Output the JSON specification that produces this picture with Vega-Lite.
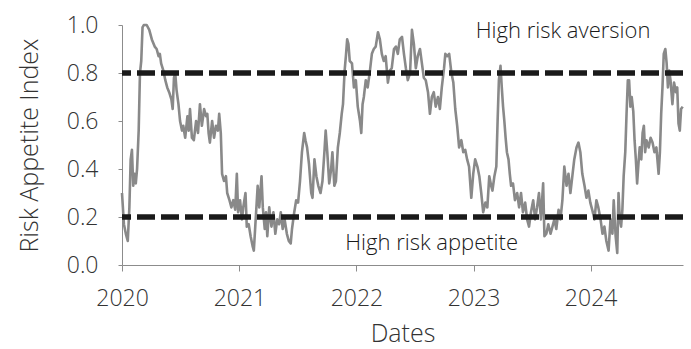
{
  "$schema": "https://vega.github.io/schema/vega-lite/v6.json",
  "width": 561,
  "height": 240,
  "autosize": {"type": "none"},
  "padding": {"left": 122, "top": 25, "right": 8, "bottom": 84},
  "background": "white",
  "config": {
    "view": {"stroke": null},
    "font": "Open Sans",
    "axis": {
      "grid": false,
      "domainColor": "#8c8c8c",
      "tickColor": "#8c8c8c",
      "labelColor": "#333333",
      "titleColor": "#333333",
      "labelFont": "Open Sans",
      "titleFont": "Open Sans",
      "labelFontSize": 23,
      "titleFontSize": 25,
      "labelFontWeight": 300,
      "titleFontWeight": 300
    }
  },
  "datasets": {
    "series": [
      {"date": "2020-01-01", "value": 0.30},
      {"date": "2020-01-07", "value": 0.17},
      {"date": "2020-01-13", "value": 0.13},
      {"date": "2020-01-19", "value": 0.10},
      {"date": "2020-01-24", "value": 0.24},
      {"date": "2020-01-28", "value": 0.44},
      {"date": "2020-02-01", "value": 0.48},
      {"date": "2020-02-05", "value": 0.33},
      {"date": "2020-02-09", "value": 0.38},
      {"date": "2020-02-13", "value": 0.34},
      {"date": "2020-02-17", "value": 0.40},
      {"date": "2020-02-22", "value": 0.56},
      {"date": "2020-02-26", "value": 0.80},
      {"date": "2020-03-01", "value": 0.85},
      {"date": "2020-03-05", "value": 0.99},
      {"date": "2020-03-09", "value": 1.00},
      {"date": "2020-03-18", "value": 1.00},
      {"date": "2020-03-26", "value": 0.98},
      {"date": "2020-04-03", "value": 0.94},
      {"date": "2020-04-12", "value": 0.91},
      {"date": "2020-04-18", "value": 0.90},
      {"date": "2020-04-24", "value": 0.87},
      {"date": "2020-04-28", "value": 0.88},
      {"date": "2020-05-02", "value": 0.84},
      {"date": "2020-05-09", "value": 0.81},
      {"date": "2020-05-15", "value": 0.77},
      {"date": "2020-05-21", "value": 0.74},
      {"date": "2020-05-27", "value": 0.72},
      {"date": "2020-06-03", "value": 0.69},
      {"date": "2020-06-07", "value": 0.65},
      {"date": "2020-06-11", "value": 0.78},
      {"date": "2020-06-15", "value": 0.80},
      {"date": "2020-06-19", "value": 0.73},
      {"date": "2020-06-25", "value": 0.67},
      {"date": "2020-06-30", "value": 0.60},
      {"date": "2020-07-06", "value": 0.56},
      {"date": "2020-07-10", "value": 0.58},
      {"date": "2020-07-16", "value": 0.53},
      {"date": "2020-07-23", "value": 0.62},
      {"date": "2020-07-27", "value": 0.56},
      {"date": "2020-07-31", "value": 0.65},
      {"date": "2020-08-06", "value": 0.53},
      {"date": "2020-08-12", "value": 0.52},
      {"date": "2020-08-19", "value": 0.60},
      {"date": "2020-08-25", "value": 0.55},
      {"date": "2020-08-31", "value": 0.67},
      {"date": "2020-09-06", "value": 0.58},
      {"date": "2020-09-13", "value": 0.65},
      {"date": "2020-09-19", "value": 0.62},
      {"date": "2020-09-23", "value": 0.63},
      {"date": "2020-09-27", "value": 0.55},
      {"date": "2020-10-01", "value": 0.51},
      {"date": "2020-10-08", "value": 0.60},
      {"date": "2020-10-14", "value": 0.53},
      {"date": "2020-10-20", "value": 0.58},
      {"date": "2020-10-26", "value": 0.56},
      {"date": "2020-10-30", "value": 0.63},
      {"date": "2020-11-04", "value": 0.55},
      {"date": "2020-11-08", "value": 0.38},
      {"date": "2020-11-14", "value": 0.35},
      {"date": "2020-11-20", "value": 0.37},
      {"date": "2020-11-24", "value": 0.30},
      {"date": "2020-12-01", "value": 0.27},
      {"date": "2020-12-07", "value": 0.24},
      {"date": "2020-12-13", "value": 0.27},
      {"date": "2020-12-19", "value": 0.23},
      {"date": "2020-12-24", "value": 0.38},
      {"date": "2020-12-28", "value": 0.22},
      {"date": "2021-01-03", "value": 0.27},
      {"date": "2021-01-09", "value": 0.19},
      {"date": "2021-01-13", "value": 0.24},
      {"date": "2021-01-20", "value": 0.30},
      {"date": "2021-01-24", "value": 0.16},
      {"date": "2021-01-30", "value": 0.17},
      {"date": "2021-02-05", "value": 0.12},
      {"date": "2021-02-11", "value": 0.08},
      {"date": "2021-02-15", "value": 0.06},
      {"date": "2021-02-19", "value": 0.15},
      {"date": "2021-02-23", "value": 0.24},
      {"date": "2021-02-27", "value": 0.33},
      {"date": "2021-03-04", "value": 0.24},
      {"date": "2021-03-11", "value": 0.37},
      {"date": "2021-03-15", "value": 0.24},
      {"date": "2021-03-21", "value": 0.15},
      {"date": "2021-03-25", "value": 0.22},
      {"date": "2021-03-29", "value": 0.12},
      {"date": "2021-04-04", "value": 0.24},
      {"date": "2021-04-11", "value": 0.16},
      {"date": "2021-04-17", "value": 0.22},
      {"date": "2021-04-23", "value": 0.13},
      {"date": "2021-04-29", "value": 0.19},
      {"date": "2021-05-05", "value": 0.17},
      {"date": "2021-05-10", "value": 0.22},
      {"date": "2021-05-16", "value": 0.15},
      {"date": "2021-05-22", "value": 0.19},
      {"date": "2021-05-29", "value": 0.13},
      {"date": "2021-06-04", "value": 0.10},
      {"date": "2021-06-10", "value": 0.09},
      {"date": "2021-06-14", "value": 0.15},
      {"date": "2021-06-21", "value": 0.22},
      {"date": "2021-06-27", "value": 0.27},
      {"date": "2021-07-03", "value": 0.26},
      {"date": "2021-07-09", "value": 0.35},
      {"date": "2021-07-15", "value": 0.47},
      {"date": "2021-07-22", "value": 0.55},
      {"date": "2021-07-26", "value": 0.52},
      {"date": "2021-07-31", "value": 0.49},
      {"date": "2021-08-06", "value": 0.42},
      {"date": "2021-08-13", "value": 0.30},
      {"date": "2021-08-17", "value": 0.28},
      {"date": "2021-08-23", "value": 0.44},
      {"date": "2021-08-29", "value": 0.37},
      {"date": "2021-09-04", "value": 0.33},
      {"date": "2021-09-11", "value": 0.30},
      {"date": "2021-09-17", "value": 0.35},
      {"date": "2021-09-23", "value": 0.47},
      {"date": "2021-09-27", "value": 0.56},
      {"date": "2021-10-02", "value": 0.47},
      {"date": "2021-10-08", "value": 0.34},
      {"date": "2021-10-14", "value": 0.40},
      {"date": "2021-10-18", "value": 0.47},
      {"date": "2021-10-24", "value": 0.33},
      {"date": "2021-10-29", "value": 0.35},
      {"date": "2021-11-04", "value": 0.49},
      {"date": "2021-11-10", "value": 0.55},
      {"date": "2021-11-16", "value": 0.63},
      {"date": "2021-11-20", "value": 0.67},
      {"date": "2021-11-25", "value": 0.81},
      {"date": "2021-11-29", "value": 0.87},
      {"date": "2021-12-03", "value": 0.94},
      {"date": "2021-12-07", "value": 0.92},
      {"date": "2021-12-11", "value": 0.85},
      {"date": "2021-12-18", "value": 0.84},
      {"date": "2021-12-24", "value": 0.74},
      {"date": "2021-12-30", "value": 0.77},
      {"date": "2022-01-05", "value": 0.66},
      {"date": "2022-01-12", "value": 0.60},
      {"date": "2022-01-16", "value": 0.55},
      {"date": "2022-01-20", "value": 0.67},
      {"date": "2022-01-24", "value": 0.70},
      {"date": "2022-01-30", "value": 0.77},
      {"date": "2022-02-05", "value": 0.74},
      {"date": "2022-02-12", "value": 0.81},
      {"date": "2022-02-18", "value": 0.88},
      {"date": "2022-02-24", "value": 0.90},
      {"date": "2022-03-02", "value": 0.91},
      {"date": "2022-03-09", "value": 0.97},
      {"date": "2022-03-15", "value": 0.94},
      {"date": "2022-03-21", "value": 0.88},
      {"date": "2022-03-27", "value": 0.85},
      {"date": "2022-04-02", "value": 0.87},
      {"date": "2022-04-09", "value": 0.76},
      {"date": "2022-04-15", "value": 0.81},
      {"date": "2022-04-21", "value": 0.82},
      {"date": "2022-04-28", "value": 0.90},
      {"date": "2022-05-04", "value": 0.91},
      {"date": "2022-05-10", "value": 0.88},
      {"date": "2022-05-16", "value": 0.94},
      {"date": "2022-05-23", "value": 0.95},
      {"date": "2022-05-29", "value": 0.88},
      {"date": "2022-06-04", "value": 0.82},
      {"date": "2022-06-10", "value": 0.77},
      {"date": "2022-06-17", "value": 0.80},
      {"date": "2022-06-23", "value": 0.98},
      {"date": "2022-06-29", "value": 0.92},
      {"date": "2022-07-05", "value": 0.82},
      {"date": "2022-07-11", "value": 0.87},
      {"date": "2022-07-18", "value": 0.90},
      {"date": "2022-07-24", "value": 0.84},
      {"date": "2022-07-30", "value": 0.78},
      {"date": "2022-08-05", "value": 0.77},
      {"date": "2022-08-12", "value": 0.72},
      {"date": "2022-08-18", "value": 0.63},
      {"date": "2022-08-24", "value": 0.70},
      {"date": "2022-08-30", "value": 0.72},
      {"date": "2022-09-05", "value": 0.66},
      {"date": "2022-09-12", "value": 0.70},
      {"date": "2022-09-18", "value": 0.65},
      {"date": "2022-09-24", "value": 0.74},
      {"date": "2022-10-01", "value": 0.82},
      {"date": "2022-10-05", "value": 0.88},
      {"date": "2022-10-11", "value": 0.87},
      {"date": "2022-10-17", "value": 0.88},
      {"date": "2022-10-24", "value": 0.80},
      {"date": "2022-10-30", "value": 0.76},
      {"date": "2022-11-05", "value": 0.65},
      {"date": "2022-11-11", "value": 0.58},
      {"date": "2022-11-17", "value": 0.49},
      {"date": "2022-11-24", "value": 0.52},
      {"date": "2022-11-30", "value": 0.47},
      {"date": "2022-12-06", "value": 0.48},
      {"date": "2022-12-12", "value": 0.44},
      {"date": "2022-12-18", "value": 0.41},
      {"date": "2022-12-25", "value": 0.28},
      {"date": "2022-12-31", "value": 0.38},
      {"date": "2023-01-06", "value": 0.44},
      {"date": "2023-01-13", "value": 0.41},
      {"date": "2023-01-19", "value": 0.37},
      {"date": "2023-01-25", "value": 0.30},
      {"date": "2023-01-31", "value": 0.22},
      {"date": "2023-02-07", "value": 0.26},
      {"date": "2023-02-13", "value": 0.24},
      {"date": "2023-02-19", "value": 0.37},
      {"date": "2023-02-25", "value": 0.33},
      {"date": "2023-03-01", "value": 0.31},
      {"date": "2023-03-07", "value": 0.37},
      {"date": "2023-03-13", "value": 0.41},
      {"date": "2023-03-17", "value": 0.60},
      {"date": "2023-03-21", "value": 0.77},
      {"date": "2023-03-26", "value": 0.83},
      {"date": "2023-03-30", "value": 0.74},
      {"date": "2023-04-03", "value": 0.66},
      {"date": "2023-04-07", "value": 0.60},
      {"date": "2023-04-11", "value": 0.53},
      {"date": "2023-04-15", "value": 0.47},
      {"date": "2023-04-20", "value": 0.44},
      {"date": "2023-04-24", "value": 0.38},
      {"date": "2023-04-28", "value": 0.33},
      {"date": "2023-05-04", "value": 0.34},
      {"date": "2023-05-10", "value": 0.27},
      {"date": "2023-05-17", "value": 0.30},
      {"date": "2023-05-23", "value": 0.24},
      {"date": "2023-05-29", "value": 0.30},
      {"date": "2023-06-04", "value": 0.22},
      {"date": "2023-06-11", "value": 0.26},
      {"date": "2023-06-17", "value": 0.19},
      {"date": "2023-06-23", "value": 0.16},
      {"date": "2023-06-29", "value": 0.22},
      {"date": "2023-07-06", "value": 0.27},
      {"date": "2023-07-12", "value": 0.19},
      {"date": "2023-07-18", "value": 0.24},
      {"date": "2023-07-24", "value": 0.30},
      {"date": "2023-07-30", "value": 0.19},
      {"date": "2023-08-06", "value": 0.34},
      {"date": "2023-08-10", "value": 0.12},
      {"date": "2023-08-16", "value": 0.13},
      {"date": "2023-08-22", "value": 0.17},
      {"date": "2023-08-29", "value": 0.13},
      {"date": "2023-09-04", "value": 0.16},
      {"date": "2023-09-10", "value": 0.19},
      {"date": "2023-09-16", "value": 0.15},
      {"date": "2023-09-23", "value": 0.23},
      {"date": "2023-09-29", "value": 0.19},
      {"date": "2023-10-05", "value": 0.27},
      {"date": "2023-10-11", "value": 0.41},
      {"date": "2023-10-18", "value": 0.33},
      {"date": "2023-10-24", "value": 0.38},
      {"date": "2023-10-30", "value": 0.30},
      {"date": "2023-11-05", "value": 0.37},
      {"date": "2023-11-11", "value": 0.44},
      {"date": "2023-11-18", "value": 0.49},
      {"date": "2023-11-24", "value": 0.51},
      {"date": "2023-11-30", "value": 0.47},
      {"date": "2023-12-06", "value": 0.38},
      {"date": "2023-12-13", "value": 0.33},
      {"date": "2023-12-19", "value": 0.28},
      {"date": "2023-12-25", "value": 0.31},
      {"date": "2023-12-31", "value": 0.26},
      {"date": "2024-01-06", "value": 0.23},
      {"date": "2024-01-13", "value": 0.19},
      {"date": "2024-01-19", "value": 0.27},
      {"date": "2024-01-25", "value": 0.24},
      {"date": "2024-02-01", "value": 0.19},
      {"date": "2024-02-07", "value": 0.13},
      {"date": "2024-02-13", "value": 0.16},
      {"date": "2024-02-19", "value": 0.10},
      {"date": "2024-02-26", "value": 0.06},
      {"date": "2024-03-03", "value": 0.19},
      {"date": "2024-03-09", "value": 0.13},
      {"date": "2024-03-13", "value": 0.27},
      {"date": "2024-03-19", "value": 0.12},
      {"date": "2024-03-24", "value": 0.05},
      {"date": "2024-03-28", "value": 0.30},
      {"date": "2024-04-01", "value": 0.19},
      {"date": "2024-04-05", "value": 0.16},
      {"date": "2024-04-09", "value": 0.23},
      {"date": "2024-04-13", "value": 0.37},
      {"date": "2024-04-18", "value": 0.47},
      {"date": "2024-04-22", "value": 0.63},
      {"date": "2024-04-26", "value": 0.77},
      {"date": "2024-04-30", "value": 0.77},
      {"date": "2024-05-04", "value": 0.66},
      {"date": "2024-05-08", "value": 0.70},
      {"date": "2024-05-13", "value": 0.64},
      {"date": "2024-05-17", "value": 0.52},
      {"date": "2024-05-21", "value": 0.44},
      {"date": "2024-05-25", "value": 0.34},
      {"date": "2024-05-29", "value": 0.42},
      {"date": "2024-06-02", "value": 0.49},
      {"date": "2024-06-07", "value": 0.44},
      {"date": "2024-06-11", "value": 0.55},
      {"date": "2024-06-15", "value": 0.58},
      {"date": "2024-06-19", "value": 0.47},
      {"date": "2024-06-23", "value": 0.52},
      {"date": "2024-06-30", "value": 0.49},
      {"date": "2024-07-06", "value": 0.53},
      {"date": "2024-07-12", "value": 0.51},
      {"date": "2024-07-18", "value": 0.47},
      {"date": "2024-07-24", "value": 0.49},
      {"date": "2024-07-31", "value": 0.38},
      {"date": "2024-08-04", "value": 0.47},
      {"date": "2024-08-08", "value": 0.63},
      {"date": "2024-08-12", "value": 0.74},
      {"date": "2024-08-16", "value": 0.88},
      {"date": "2024-08-21", "value": 0.90},
      {"date": "2024-08-25", "value": 0.84},
      {"date": "2024-08-29", "value": 0.74},
      {"date": "2024-09-02", "value": 0.81},
      {"date": "2024-09-06", "value": 0.77},
      {"date": "2024-09-12", "value": 0.67},
      {"date": "2024-09-17", "value": 0.76},
      {"date": "2024-09-23", "value": 0.72},
      {"date": "2024-09-27", "value": 0.74},
      {"date": "2024-10-01", "value": 0.59},
      {"date": "2024-10-05", "value": 0.56},
      {"date": "2024-10-09", "value": 0.65},
      {"date": "2024-10-14", "value": 0.66}
    ],
    "thresholds": [{"level": 0.8}, {"level": 0.2}],
    "notes": [
      {"date": "2023-01-08", "value": 0.975, "label": "High risk aversion"},
      {"date": "2021-11-27", "value": 0.092, "label": "High risk appetite"}
    ]
  },
  "layer": [
    {
      "data": {"name": "series"},
      "mark": {"type": "line", "color": "#898989", "strokeWidth": 2.6, "strokeJoin": "round"},
      "encoding": {
        "x": {
          "field": "date", "type": "temporal",
          "scale": {"domain": ["2020-01-01", "2024-10-15"], "nice": false},
          "axis": {"title": "Dates", "format": "%Y", "tickCount": {"interval": "year", "step": 1}, "tickSize": 6, "labelFlush": false, "labelPadding": 16, "titlePadding": 11}
        },
        "y": {
          "field": "value", "type": "quantitative",
          "scale": {"domain": [0, 1], "nice": false, "zero": false},
          "axis": {"title": "Risk Appetite Index", "values": [0, 0.2, 0.4, 0.6, 0.8, 1.0], "format": ".1f", "tickSize": 4, "labelPadding": 20, "titlePadding": 24}
        }
      }
    },
    {
      "data": {"name": "thresholds"},
      "mark": {"type": "rule", "color": "#1a1a1a", "strokeWidth": 5.5, "strokeDash": [18, 6]},
      "encoding": {"y": {"field": "level", "type": "quantitative"}}
    },
    {
      "data": {"name": "notes"},
      "mark": {"type": "text", "align": "left", "baseline": "middle", "font": "Open Sans", "fontSize": 22, "fontWeight": 300, "color": "#1a1a1a"},
      "encoding": {
        "x": {"field": "date", "type": "temporal"},
        "y": {"field": "value", "type": "quantitative"},
        "text": {"field": "label"}
      }
    }
  ]
}
